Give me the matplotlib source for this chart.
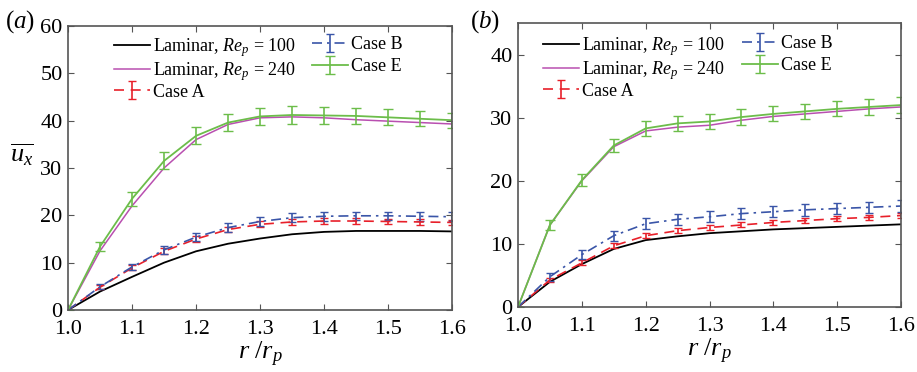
import numpy as np
import matplotlib
matplotlib.use("Agg")
import matplotlib.pyplot as plt

plt.rcParams['font.family'] = ['Liberation Serif', 'DejaVu Serif']
plt.rcParams['mathtext.fontset'] = 'custom'
plt.rcParams['mathtext.rm'] = 'Liberation Serif'
plt.rcParams['mathtext.it'] = 'Liberation Serif:italic'

r = [1.0, 1.05, 1.1, 1.15, 1.2, 1.25, 1.3, 1.35, 1.4, 1.45, 1.5, 1.55, 1.6]

# panel (a)
lam100_a = [0, 3.9, 7.0, 10.0, 12.4, 14.0, 15.1, 16.0, 16.5, 16.7, 16.7, 16.7, 16.6]
lam240_a = [0, 12.5, 22.0, 30.0, 36.0, 39.2, 40.6, 40.8, 40.6, 40.2, 39.9, 39.6, 39.3]
caseA_a = [0, 4.8, 8.9, 12.4, 15.0, 17.0, 18.1, 18.6, 18.8, 18.8, 18.7, 18.6, 18.5]
errA_a = [0, 0.4, 0.5, 0.6, 0.6, 0.6, 0.6, 0.6, 0.6, 0.6, 0.6, 0.6, 0.6]
caseB_a = [0, 4.9, 9.1, 12.7, 15.4, 17.4, 18.7, 19.5, 19.8, 19.9, 19.9, 19.8, 19.7]
errB_a = [0, 0.5, 0.7, 0.8, 0.9, 0.9, 0.9, 0.9, 0.9, 0.9, 0.9, 0.9, 0.9]
caseE_a = [0, 13.4, 23.5, 31.5, 36.8, 39.6, 40.9, 41.2, 41.1, 41.0, 40.7, 40.4, 40.1]
errE_a = [0, 1.0, 1.5, 1.8, 1.8, 1.8, 1.8, 1.8, 1.8, 1.7, 1.7, 1.6, 1.6]

# panel (b)
lam100_b = [0, 4.0, 6.8, 9.2, 10.6, 11.2, 11.7, 12.0, 12.3, 12.5, 12.7, 12.9, 13.1]
lam240_b = [0, 13.0, 20.0, 25.4, 27.9, 28.5, 28.8, 29.6, 30.2, 30.6, 31.0, 31.4, 31.7]
caseA_b = [0, 4.3, 7.0, 9.7, 11.3, 12.1, 12.6, 13.0, 13.4, 13.7, 14.0, 14.2, 14.5]
errA_b = [0, 0.3, 0.4, 0.4, 0.4, 0.4, 0.4, 0.4, 0.4, 0.4, 0.4, 0.4, 0.4]
caseB_b = [0, 4.8, 8.3, 11.3, 13.2, 13.9, 14.3, 14.8, 15.1, 15.4, 15.6, 15.8, 16.0]
errB_b = [0, 0.6, 0.7, 0.8, 0.9, 0.9, 0.9, 0.9, 0.9, 0.9, 0.9, 0.9, 0.9]
caseE_b = [0, 13.0, 20.1, 25.6, 28.3, 29.1, 29.4, 30.1, 30.6, 31.0, 31.4, 31.7, 32.0]
errE_b = [0, 0.8, 1.0, 1.1, 1.2, 1.2, 1.2, 1.2, 1.2, 1.2, 1.2, 1.3, 1.3]

c_lam100 = 'black'
c_lam240 = '#b94fb0'
c_A = '#e8202a'
c_B = '#3a55a8'
c_E = '#6cbd4a'

fig = plt.figure(figsize=(9.17, 3.72), dpi=100)
ax_a = fig.add_axes([0.0742, 0.1667, 0.4188, 0.7634])
ax_b = fig.add_axes([0.5649, 0.1747, 0.4177, 0.7634])


def draw(ax, l100, l240, a, ea, b, eb, e, ee, ylim, yticks,
         leg_x1, leg_x2, leg_y):
    h1, = ax.plot(r, l100, color=c_lam100, lw=1.3)
    h2, = ax.plot(r, l240, color=c_lam240, lw=1.1)
    h3 = ax.errorbar(r, a, yerr=ea, color=c_A, lw=1.2, ls=(0, (6, 4)),
                     capsize=3, elinewidth=1.2)
    h4 = ax.errorbar(r, b, yerr=eb, color=c_B, lw=1.2, ls=(0, (6, 3, 1.5, 3)),
                     capsize=3, elinewidth=1.2)
    h5 = ax.errorbar(r, e, yerr=ee, color=c_E, lw=1.3, capsize=3.5,
                     elinewidth=1.2)
    ax.set_xlim(1.0, 1.6)
    ax.set_ylim(*ylim)
    ax.set_xticks(np.arange(1.0, 1.61, 0.1))
    ax.set_xticklabels(['%.1f' % v for v in np.arange(1.0, 1.61, 0.1)])
    ax.set_yticks(yticks)
    ax.tick_params(direction='in', top=True, right=True, labelsize=16,
                   length=4, color='#555555')
    ax.tick_params(axis='x', pad=7)
    ax.tick_params(axis='y', pad=4)
    for s in ax.spines.values():
        s.set_color('#555555')
        s.set_linewidth(1.2)
    ax.set_xlabel(r'$r\ /r_p$', fontsize=19, labelpad=1)
    opts = dict(loc='upper left', frameon=False, fontsize=13,
                handlelength=2.0, handletextpad=0.15, borderpad=0,
                borderaxespad=0)
    leg1 = ax.legend([h1, h2, h3],
                     [r'Laminar, $Re_p$ = 100', r'Laminar, $Re_p$ = 240',
                      'Case A'],
                     bbox_to_anchor=(leg_x1, leg_y), labelspacing=0.05, **opts)
    ax.add_artist(leg1)
    ax.legend([h4, h5], ['Case B', 'Case E'],
              bbox_to_anchor=(leg_x2, leg_y), labelspacing=0.3, **opts)


draw(ax_a, lam100_a, lam240_a, caseA_a, errA_a, caseB_a, errB_a,
     caseE_a, errE_a, (0, 60), np.arange(0, 61, 10), 0.12, 0.635, 0.965)
draw(ax_b, lam100_b, lam240_b, caseA_b, errA_b, caseB_b, errB_b,
     caseE_b, errE_b, (0, 45), np.arange(0, 41, 10), 0.065, 0.585, 0.958)

ax_a.set_ylabel(r'$\overline{u_x}$', fontsize=19, rotation=0, va='center')
ax_a.yaxis.set_label_coords(-0.12, 0.545)

fig.text(0.005, 0.925, r'($a$)', fontsize=18)
fig.text(0.512, 0.925, r'($b$)', fontsize=18)

fig.savefig('out.png', dpi=100)
